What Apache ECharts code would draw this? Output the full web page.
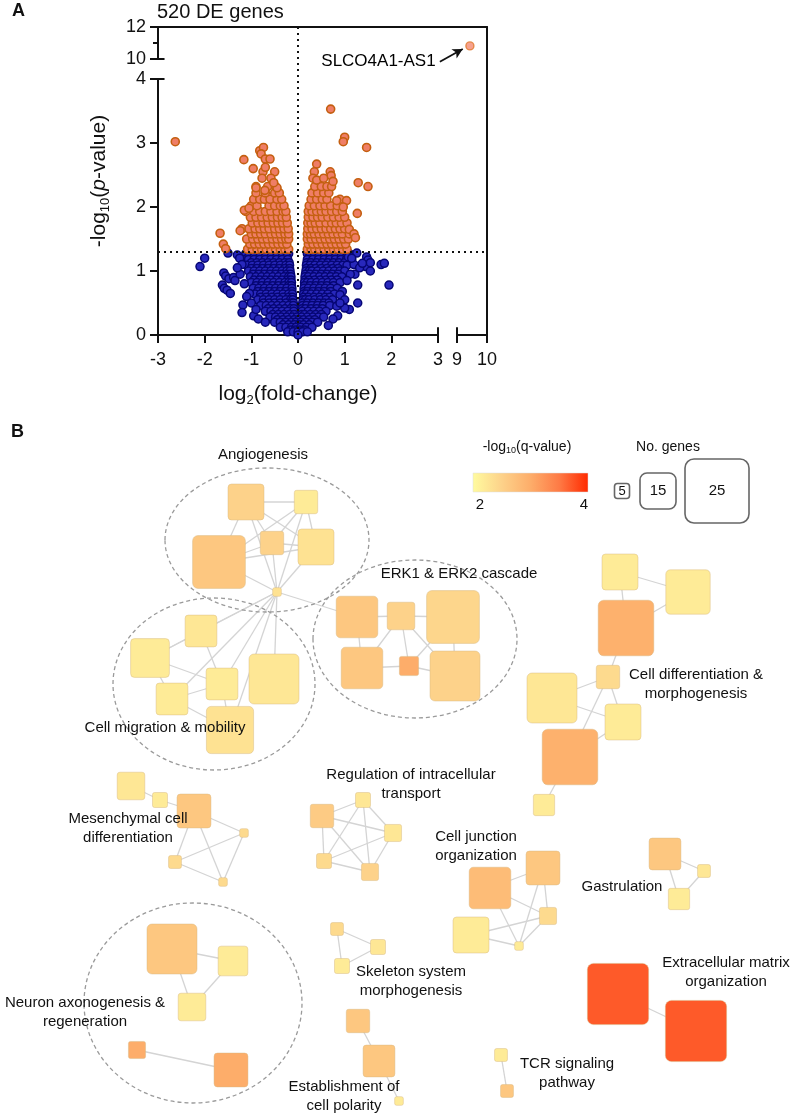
<!DOCTYPE html>
<html><head><meta charset="utf-8">
<script src="https://cdn.jsdelivr.net/npm/echarts/dist/echarts.min.js"></script>
<style>html,body{margin:0;padding:0;background:#fff}#c{width:796px;height:1117px}</style>
</head><body><div id="c"></div>
<script>
const FONT = '"Liberation Sans", Arial, sans-serif';
// ---------------- Panel A data ----------------
const xTicksMain = [-3, 3, 1];      // min, max, interval
const xTicksRight = [9, 10, 1];
const yTicksLow = [0, 4, 1];
const yTicksHigh = [10, 12, 2];
const pThreshold = 1.3;
// orange (significant) points, rows of [y, [x...]]
const orangeRows = [
 [1.34, [-1.08,-0.98,-0.88,-0.78,-0.68,-0.58,-0.48,-0.38,-0.28,-0.2,0.2,0.28,0.36,0.46,0.56,0.66,0.76,0.86,0.96,1.05]],
 [1.42, [-1.03,-0.93,-0.83,-0.73,-0.63,-0.53,-0.43,-0.33,-0.24,0.22,0.32,0.42,0.52,0.62,0.72,0.82,0.92,1.02]],
 [1.50, [-1.1,-0.97,-0.86,-0.76,-0.66,-0.55,-0.45,-0.35,-0.26,-0.2,0.2,0.28,0.38,0.48,0.58,0.68,0.78,0.88,0.98,1.08]],
 [1.58, [-1.0,-0.9,-0.8,-0.7,-0.58,-0.48,-0.38,-0.28,-0.2,0.2,0.27,0.35,0.45,0.55,0.65,0.75,0.85,0.95,1.1]],
 [1.66, [-1.2,-1.05,-0.92,-0.82,-0.72,-0.62,-0.5,-0.4,-0.3,-0.21,0.21,0.3,0.4,0.5,0.6,0.7,0.8,0.9,1.0]],
 [1.75, [-0.98,-0.86,-0.75,-0.64,-0.53,-0.43,-0.33,-0.23,0.21,0.28,0.37,0.47,0.6,0.72,0.82,0.93,1.05]],
 [1.84, [-1.02,-0.9,-0.78,-0.66,-0.55,-0.44,-0.34,-0.25,0.22,0.32,0.42,0.52,0.64,0.76,0.88,1.0]],
 [1.93, [-1.12,-0.95,-0.82,-0.7,-0.58,-0.45,-0.32,-0.26,0.22,0.3,0.4,0.5,0.6,0.72,0.83,0.95]],
 [2.02, [-1.0,-0.88,-0.62,-0.5,-0.38,-0.3,0.24,0.35,0.47,0.58,0.7,0.84]],
 [2.12, [-0.95,-0.82,-0.72,-0.6,-0.45,-0.35,0.28,0.4,0.52,0.62,0.9]],
 [2.22, [-0.9,-0.7,-0.5,-0.4,0.3,0.42,0.55,0.66]],
 [2.32, [-0.9,-0.65,-0.48,0.36,0.5,0.62,0.72]]
];
const orangeExtra = [[-2.63,3.02],[-1.16,2.74],[-0.96,2.6],[-0.82,2.88],[-0.74,2.93],[-0.79,2.83],[-0.7,2.75],[-0.6,2.75],
 [-0.75,2.55],[-0.7,2.62],[-0.77,2.45],[-0.5,2.55],[-0.58,2.45],[-0.45,2.3],[-0.52,2.38],[-0.71,2.26],[-0.9,2.3],
 [-1.15,1.95],[-1.05,1.98],[-1.24,1.63],[-1.67,1.59],[-1.6,1.42],[-1.55,1.35],
 [0.7,3.53],[1.0,3.09],[0.97,3.02],[1.47,2.93],[0.4,2.67],[0.69,2.55],[0.71,2.49],[1.29,2.38],[1.5,2.32],[0.75,2.4],
 [0.35,2.55],[0.32,2.45],[0.83,2.1],[1.04,2.1],[0.97,2.0],[1.27,1.9],[1.1,1.65],[1.2,1.58],[1.23,1.52],[0.4,2.42],[0.55,2.45]];
// blue (non-significant) points
const blueRows = [
 [1.27, [-1.12,-1.0,-0.88,-0.76,-0.64,-0.52,-0.4,-0.3,-0.2,0.2,0.3,0.4,0.5,0.62,0.74,0.86,0.98,1.1]],
 [1.22, [-1.06,-0.94,-0.82,-0.7,-0.58,-0.46,-0.34,-0.24,0.24,0.34,0.44,0.56,0.68,0.8,0.92,1.04]],
 [1.18, [-1.18,-1.06,-0.94,-0.82,-0.7,-0.58,-0.46,-0.34,-0.22,0.2,0.32,0.44,0.56,0.68,0.8,0.92,1.04,1.15]],
 [1.13, [-1.0,-0.88,-0.76,-0.64,-0.52,-0.4,-0.28,-0.19,0.19,0.28,0.4,0.52,0.64,0.76,0.88,1.0]],
 [1.09, [-1.1,-0.98,-0.86,-0.74,-0.62,-0.5,-0.38,-0.26,-0.18,0.18,0.26,0.36,0.48,0.6,0.72,0.84,0.96,1.05]],
 [1.04, [-1.0,-0.88,-0.76,-0.64,-0.52,-0.4,-0.28,-0.18,0.18,0.28,0.38,0.5,0.62,0.74,0.86]],
 [1.00, [-1.06,-0.94,-0.82,-0.7,-0.58,-0.46,-0.34,-0.24,-0.17,0.17,0.24,0.3,0.42,0.54,0.66,0.78,0.9,1.0]],
 [0.95, [-0.96,-0.84,-0.72,-0.6,-0.48,-0.36,-0.24,-0.16,0.16,0.26,0.38,0.5,0.62,0.74,0.86]],
 [0.91, [-1.02,-0.9,-0.78,-0.66,-0.54,-0.42,-0.3,-0.2,-0.15,0.15,0.22,0.34,0.46,0.58,0.7,0.82,0.94]],
 [0.86, [-0.94,-0.82,-0.7,-0.58,-0.46,-0.34,-0.22,-0.15,0.15,0.24,0.36,0.48,0.6,0.72,0.84]],
 [0.82, [-1.0,-0.88,-0.76,-0.64,-0.52,-0.4,-0.28,-0.2,-0.14,0.14,0.2,0.28,0.4,0.52,0.64,0.76,0.9]],
 [0.77, [-0.9,-0.78,-0.66,-0.54,-0.42,-0.3,-0.2,-0.14,0.14,0.26,0.38,0.5,0.62,0.76]],
 [0.73, [-0.96,-0.84,-0.72,-0.6,-0.48,-0.36,-0.24,-0.13,0.13,0.22,0.34,0.46,0.58,0.7,0.84]],
 [0.68, [-0.86,-0.74,-0.62,-0.5,-0.38,-0.26,-0.13,0.13,0.2,0.32,0.44,0.56,0.7]],
 [0.64, [-0.92,-0.8,-0.68,-0.56,-0.44,-0.32,-0.2,-0.12,0.12,0.18,0.28,0.4,0.52,0.64,0.78]],
 [0.59, [-0.8,-0.68,-0.56,-0.44,-0.32,-0.2,-0.12,0.12,0.22,0.34,0.46,0.58,0.68]],
 [0.55, [-0.86,-0.74,-0.62,-0.5,-0.38,-0.26,-0.16,-0.11,0.11,0.16,0.24,0.36,0.48,0.6,0.74]],
 [0.50, [-0.74,-0.62,-0.5,-0.38,-0.26,-0.14,-0.1,0.1,0.2,0.32,0.44,0.56,0.66]],
 [0.46, [-0.8,-0.68,-0.56,-0.44,-0.32,-0.2,-0.1,0.1,0.18,0.3,0.42,0.54,0.68]],
 [0.41, [-0.64,-0.52,-0.4,-0.28,-0.16,-0.09,0.09,0.16,0.28,0.4,0.52]],
 [0.37, [-0.7,-0.58,-0.46,-0.34,-0.22,-0.09,0.09,0.22,0.34,0.46,0.6]],
 [0.32, [-0.54,-0.42,-0.3,-0.18,-0.08,0.08,0.14,0.26,0.38,0.5]],
 [0.28, [-0.6,-0.48,-0.36,-0.24,-0.12,-0.02,0.08,0.2,0.32,0.44,0.55]],
 [0.24, [-0.44,-0.32,-0.2,-0.08,0.02,0.12,0.24,0.36]],
 [0.20, [-0.5,-0.38,-0.26,-0.14,-0.04,0.06,0.18,0.3,0.42]],
 [0.16, [-0.32,-0.2,-0.08,0.02,0.12,0.24]],
 [0.12, [-0.38,-0.26,-0.14,-0.04,0.06,0.18,0.3]],
 [0.08, [-0.16,-0.06,0.04,0.14]],
 [0.05, [-0.22,-0.1,0.0,0.1,0.2]],
 [0.0, [0.0]]
];
const blueExtra = [[-2.1,1.07],[-2.0,1.2],[-1.5,1.28],[-1.59,0.97],[-1.55,0.92],[-1.48,0.88],[-1.62,0.78],[-1.58,0.73],
 [-1.52,0.7],[-1.45,0.65],[-1.38,0.9],[-1.35,0.85],[-1.24,0.95],[-1.18,0.47],[-1.2,0.35],[-0.95,0.3],[-1.04,0.65],
 [-1.3,1.25],[-1.25,1.2],[-1.2,1.1],[-1.15,0.8],[-1.1,0.6],[-1.0,0.5],[-0.9,0.4],[-0.85,0.25],[-0.7,0.2],[-1.3,1.05],
 [1.26,1.28],[1.08,1.22],[1.47,1.22],[1.5,1.17],[1.45,1.07],[1.55,1.13],[1.55,1.0],[1.78,1.1],[1.85,1.12],[1.95,0.78],
 [1.28,0.78],[1.22,0.95],[1.12,0.95],[1.28,0.5],[1.1,0.4],[1.0,0.42],[0.95,0.68],[0.9,0.63],[0.83,0.45],[1.2,1.1],
 [1.15,1.2],[1.05,0.85],[0.85,0.3],[0.75,0.25],[0.65,0.15],[1.0,0.55],[0.9,0.5],[1.32,1.05],[1.38,1.12]];
const outlierGene = [[9.43, 10.82]];
const outlierName = 'SLCO4A1-AS1';

// ---------------- Panel B data ----------------
// id, layout x, layout y, number of genes, -log10(q)
const nodes = [
 ['N1',246,502,15,2.5],['N2',306,502,9,2.2],['N3',272,543,9,2.5],['N4',316,547,15,2.3],['N5',219,562,21,2.65],['H',277,592,2,2.3],
 ['E1',357,617,17,2.65],['E2',401,616,11,2.5],['E3',453,617,21,2.45],['E4',362,668,17,2.65],['E5',409,666,7,3.0],['E6',455,676,20,2.5],
 ['C1',201,631,13,2.25],['C2',150,658,16,2.2],['C3',222,684,13,2.2],['C4',274,679,20,2.25],['C5',172,699,13,2.2],['C6',230,730,19,2.3],
 ['D1',620,572,15,2.2],['D2',688,592,18,2.2],['D3',626,628,22,2.95],['D4',608,677,9,2.4],['D5',552,698,20,2.25],['D6',623,722,15,2.2],['D7',570,757,22,2.95],['D8',544,805,8,2.2],
 ['M1',131,786,11,2.25],['M2',160,800,5,2.2],['M3',194,811,14,2.65],['M4',244,833,2,2.4],['M5',175,862,4,2.4],['M6',223,882,2,2.4],
 ['R1',363,800,5,2.25],['R2',322,816,9,2.6],['R3',393,833,6,2.25],['R4',324,861,5,2.4],['R5',370,872,6,2.5],
 ['J1',490,888,17,2.8],['J2',543,868,14,2.65],['J3',548,916,6,2.4],['J4',471,935,15,2.2],['J5',519,946,2,2.2],
 ['G1',665,854,13,2.65],['G2',704,871,4,2.25],['G3',679,899,8,2.2],
 ['S1',337,929,4,2.4],['S2',378,947,5,2.25],['S3',342,966,5,2.2],
 ['X1',618,994,24,3.7],['X2',696,1031,24,3.7],
 ['U1',172,949,20,2.65],['U2',233,961,12,2.2],['U3',192,1007,11,2.2],['U4',137,1050,6,3.0],['U5',231,1070,14,3.0],
 ['P1',358,1021,9,2.65],['P2',379,1061,13,2.65],['P3',399,1101,2,2.2],
 ['T1',501,1055,4,2.2],['T2',507,1091,4,2.65]
];
const edges = [
 ['N1','N2'],['N1','N5'],['N1','N3'],['N1','N4'],['N2','N3'],['N2','N5'],['N2','N4'],['N3','N4'],['N3','N5'],['N4','N5'],
 ['N1','H'],['N2','H'],['N3','H'],['N4','H'],['N5','H'],
 ['H','E1'],['E1','E2'],['E2','E3'],['E1','E4'],['E3','E6'],['E4','E5'],['E5','E6'],['E2','E5'],['E2','E4'],['E2','E6'],['E3','E5'],
 ['H','C1'],['H','C2'],['H','C3'],['H','C4'],['H','C5'],['H','C6'],['C1','C2'],['C1','C3'],['C2','C3'],['C2','C5'],['C3','C5'],['C5','C6'],['C3','C6'],
 ['D1','D2'],['D1','D3'],['D2','D3'],['D3','D4'],['D4','D5'],['D4','D6'],['D4','D7'],['D5','D6'],['D6','D7'],['D7','D8'],
 ['M1','M2'],['M2','M3'],['M3','M4'],['M3','M6'],['M3','M5'],['M4','M5'],['M4','M6'],['M5','M6'],
 ['R1','R2'],['R1','R3'],['R1','R4'],['R1','R5'],['R2','R3'],['R2','R4'],['R2','R5'],['R3','R4'],['R3','R5'],['R4','R5'],
 ['J1','J2'],['J1','J3'],['J2','J3'],['J2','J5'],['J3','J4'],['J3','J5'],['J4','J5'],['J1','J5'],
 ['G1','G2'],['G1','G3'],['G2','G3'],['S1','S2'],['S1','S3'],['S2','S3'],['X1','X2'],
 ['U1','U2'],['U1','U3'],['U2','U3'],['U4','U5'],['P1','P2'],['P2','P3'],['T1','T2']
];
// cluster outlines: cx, cy, rx, ry (layout units)
const clusterOutlines = [[267,540,102,72],[214,684,101,86],[415,639,102,79],[193,1003,109,100]];
const clusterNames = ['Angiogenesis','ERK1 & ERK2 cascade','Cell differentiation &\nmorphogenesis','Cell migration & mobility',
 'Regulation of intracellular\ntransport','Mesenchymal cell\ndifferentiation','Cell junction\norganization','Gastrulation',
 'Skeleton system\nmorphogenesis','Extracellular matrix\norganization','Neuron axonogenesis &\nregeneration',
 'Establishment of\ncell polarity','TCR signaling\npathway'];
const clusterNamePos = [[263,455],[459,574],[696,684],[165,728],[411,784],[128,828],[476,846],[622,887],[411,981],[726,972],[85,1012],[344,1096],[567,1073]];
const legendGenes = [5, 15, 25];
const legendQ = [2, 4];

// ---------------- styling helpers ----------------
const qStops = [2, 2.5, 3, 3.5, 4];
const qColors = ['#fffb9f', '#fdd28a', '#fdad6a', '#fe7a45', '#ff2a00'];
function hex(c){return [parseInt(c.slice(1,3),16),parseInt(c.slice(3,5),16),parseInt(c.slice(5,7),16)];}
function colorOf(q){
  q = Math.max(qStops[0], Math.min(qStops[qStops.length-1], q));
  for (let i=0;i<qStops.length-1;i++){
    if (q<=qStops[i+1]){
      const t=(q-qStops[i])/(qStops[i+1]-qStops[i]); const a=hex(qColors[i]), b=hex(qColors[i+1]);
      return 'rgb('+a.map((v,k)=>Math.round(v+(b[k]-v)*t)).join(',')+')';
    }
  }
}
const sideGenes = [5, 15, 25], sidePx = [15, 36, 64];
function sizeOf(n){
  if (n<=sideGenes[1]) return sidePx[0] + (n-sideGenes[0])*(sidePx[1]-sidePx[0])/(sideGenes[1]-sideGenes[0]);
  return sidePx[1] + (n-sideGenes[1])*(sidePx[2]-sidePx[1])/(sideGenes[2]-sideGenes[1]);
}
const flat = rows => rows.flatMap(r => r[1].map(x => [x, r[0]]));
const orangeData = flat(orangeRows).concat(orangeExtra);
const blueData = flat(blueRows).concat(blueExtra);
const nodeIndex = {}; nodes.forEach(n => nodeIndex[n[0]] = n);
const nodeData = nodes.map(n => [n[1], n[2], n[3], n[4]]);
const edgeData = edges.map(([a,b]) => [nodeIndex[a][1], nodeIndex[a][2], nodeIndex[b][1], nodeIndex[b][2]]);

const chart = echarts.init(document.getElementById('c'), null, {renderer:'canvas'});
const axisLine = {show:true, onZero:false, lineStyle:{color:'#111', width:2}};
const tick = {show:true, length:8, lineStyle:{color:'#111', width:2}};
const lab = {color:'#111', fontSize:18, fontFamily:FONT};
const hidden = {show:false};
const fw = 329, fx = -3 + (xTicksMain[1]-xTicksMain[0]) * fw / 280;
const capStyle = {color:'#111', width:2, type:'solid'};

const option = {
  animation:false,
  backgroundColor:'#fff',
  textStyle:{fontFamily:FONT},
  title:[
    {text:'A', left:12, top:2, padding:0, textStyle:{fontSize:18, fontWeight:'bold', color:'#111', fontFamily:FONT}},
    {text:'520 DE genes', left:157, top:2, padding:0, textStyle:{fontSize:20, fontWeight:'normal', color:'#111', fontFamily:FONT}},
    {text:'B', left:11, top:423, padding:0, textStyle:{fontSize:18, fontWeight:'bold', color:'#111', fontFamily:FONT}}
  ],
  grid:[
    {left:158, top:79, width:280, height:256, outerBoundsMode:'none'},
    {left:158, top:27, width:280, height:32, outerBoundsMode:'none'},
    {left:457, top:79, width:30, height:256, outerBoundsMode:'none'},
    {left:457, top:27, width:30, height:32, outerBoundsMode:'none'},
    {left:158, top:27, width:fw, height:308, outerBoundsMode:'none'},
    {left:0, top:0, width:796, height:1117, outerBoundsMode:'none'}
  ],
  xAxis:[
    {gridIndex:0, type:'value', min:xTicksMain[0], max:xTicksMain[1], interval:xTicksMain[2], axisLine, axisTick:tick,
      axisLabel:Object.assign({margin:16}, lab), splitLine:hidden,
      name:'{a|log}{s|2}{a|(fold-change)}', nameLocation:'middle', nameGap:47,
      nameTextStyle:{rich:{a:{fontSize:21, color:'#111', fontFamily:FONT}, s:{fontSize:13, color:'#111', fontFamily:FONT, verticalAlign:'top', padding:[12,0,0,0]}}}},
    {gridIndex:1, type:'value', min:xTicksMain[0], max:xTicksMain[1], show:false},
    {gridIndex:2, type:'value', min:xTicksRight[0], max:xTicksRight[1], interval:xTicksRight[2], axisLine, axisTick:tick,
      axisLabel:Object.assign({margin:16}, lab), splitLine:hidden},
    {gridIndex:3, type:'value', min:xTicksRight[0], max:xTicksRight[1], show:false},
    {gridIndex:4, type:'value', min:-3, max:fx, position:'top', axisLine, axisTick:hidden, axisLabel:hidden, splitLine:hidden},
    {gridIndex:5, type:'value', min:0, max:796, show:false}
  ],
  yAxis:[
    {gridIndex:0, type:'value', min:yTicksLow[0], max:yTicksLow[1], interval:yTicksLow[2], axisLine, axisTick:tick,
      axisLabel:Object.assign({margin:12}, lab), splitLine:hidden},
    {gridIndex:1, type:'value', min:yTicksHigh[0], max:yTicksHigh[1], interval:yTicksHigh[2], axisLine, axisTick:tick,
      minorTick:{show:true, splitNumber:2, length:5, lineStyle:{color:'#111', width:2}},
      axisLabel:Object.assign({margin:12}, lab), splitLine:hidden, minorSplitLine:hidden},
    {gridIndex:2, type:'value', min:yTicksLow[0], max:yTicksLow[1], show:false},
    {gridIndex:3, type:'value', min:yTicksHigh[0], max:yTicksHigh[1], show:false},
    {gridIndex:4, type:'value', min:0, max:308/64, position:'right', axisLine, axisTick:hidden, axisLabel:hidden, splitLine:hidden},
    {gridIndex:4, type:'value', min:0, max:308/64, position:'left', axisLine:{show:false}, axisTick:hidden, axisLabel:hidden, splitLine:hidden,
      name:'{a|-log}{s|10}{a|(}{i|p}{a|-value)}', nameLocation:'middle', nameGap:46, nameRotate:90,
      nameTextStyle:{rich:{a:{fontSize:21, color:'#111', fontFamily:FONT}, i:{fontSize:21, fontStyle:'italic', color:'#111', fontFamily:FONT},
        s:{fontSize:13, color:'#111', fontFamily:FONT, verticalAlign:'top', padding:[12,0,0,0]}}}},
    {gridIndex:5, type:'value', min:0, max:1117, inverse:true, show:false}
  ],
  graphic:[
    {type:'text', x:527, y:447, style:{text:'{a|-log}{s|10}{a|(q-value)}', align:'center', verticalAlign:'middle',
      rich:{a:{fontSize:14, fill:'#111', fontFamily:FONT}, s:{fontSize:9, fill:'#111', fontFamily:FONT, verticalAlign:'top', padding:[8,0,0,0]}}}},
    {type:'rect', shape:{x:473, y:473, width:115, height:19},
      style:{fill:new echarts.graphic.LinearGradient(0,0,1,0, qStops.map((q,i)=>({offset:(q-qStops[0])/(qStops[4]-qStops[0]), color:qColors[i]}))), stroke:'#ddd', lineWidth:0.5}},
    {type:'text', x:480, y:505, style:{text:String(legendQ[0]), fontSize:15, fontFamily:FONT, fill:'#111', align:'center', verticalAlign:'middle'}},
    {type:'text', x:584, y:505, style:{text:String(legendQ[1]), fontSize:15, fontFamily:FONT, fill:'#111', align:'center', verticalAlign:'middle'}},
    {type:'text', x:668, y:447, style:{text:'No. genes', fontSize:14, fontFamily:FONT, fill:'#111', align:'center', verticalAlign:'middle'}}
  ].concat([622, 658, 717].flatMap((cx, i) => {
      const s = sizeOf(legendGenes[i]);
      return [
        {type:'rect', shape:{x:cx-s/2, y:491-s/2, width:s, height:s, r:[3,7,9][i]}, style:{fill:'#fff', stroke:'#666', lineWidth:1.6}},
        {type:'text', x:cx, y:491, style:{text:String(legendGenes[i]), fontSize:[13,15,15][i], fontFamily:FONT, fill:'#111', align:'center', verticalAlign:'middle'}}
      ];
  })),
  series:[
    {type:'scatter', xAxisIndex:0, yAxisIndex:0, data:blueData, symbolSize:8, clip:false, silent:true,
      itemStyle:{color:'#2828bc', borderColor:'#060674', borderWidth:1.5, opacity:1},
      markLine:{silent:true, symbol:'none', label:{show:false}, lineStyle:capStyle,
        data:[[{coord:[3, 0]}, {coord:[3, 0.12]}], [{coord:[-3, 4]}, {coord:[-2.86, 4]}]]}},
    {type:'scatter', xAxisIndex:0, yAxisIndex:0, data:orangeData, symbolSize:8, clip:false, silent:true,
      itemStyle:{color:'#ef7e66', borderColor:'#c45f10', borderWidth:1.6, opacity:1}},
    {type:'scatter', xAxisIndex:3, yAxisIndex:3, data:outlierGene, symbolSize:8, clip:false, silent:true,
      itemStyle:{color:'#f48a72', borderColor:'#e0782a', borderWidth:1.4}},
    {type:'scatter', xAxisIndex:2, yAxisIndex:2, data:[], silent:true,
      markLine:{silent:true, symbol:'none', label:{show:false}, lineStyle:capStyle,
        data:[[{coord:[9, 0]}, {coord:[9, 0.12]}]]}},
    {type:'scatter', xAxisIndex:1, yAxisIndex:1, data:[], silent:true,
      markLine:{silent:true, symbol:'none', label:{show:false}, lineStyle:capStyle,
        data:[[{coord:[-3, 10]}, {coord:[-2.86, 10]}]]}},
    {type:'scatter', xAxisIndex:4, yAxisIndex:4, data:[[fx, 0]], symbolSize:0, silent:true,
      markLine:{silent:true, symbol:'none', label:{show:false}, lineStyle:{color:'#111', width:2, type:[2,4]},
        data:[{xAxis:0}, {yAxis:pThreshold}]}},
    {type:'scatter', xAxisIndex:4, yAxisIndex:4, data:[[2.96, 4.28]], symbolSize:1, silent:true, itemStyle:{color:'#fff', opacity:1},
      label:{show:true, position:'left', distance:0, formatter:outlierName, fontSize:17, color:'#000', fontFamily:FONT, textBorderWidth:0},
      markLine:{silent:true, label:{show:false}, lineStyle:{color:'#111', width:1.8, type:'solid'},
        data:[[{coord:[3.04, 4.27], symbol:'none'}, {coord:[3.53, 4.47], symbol:'arrow', symbolSize:[8,10]}]]}},
    // network edges
    {type:'custom', xAxisIndex:5, yAxisIndex:6, data:edgeData, silent:true, z:3,
      renderItem:(p, api) => {
        const a = api.coord([api.value(0), api.value(1)]), b = api.coord([api.value(2), api.value(3)]);
        return {type:'line', shape:{x1:a[0], y1:a[1], x2:b[0], y2:b[1]}, style:{stroke:'#d4d4d4', lineWidth:1.3}};
      }},
    // cluster outlines
    {type:'custom', xAxisIndex:5, yAxisIndex:6, data:clusterOutlines, silent:true, z:4,
      renderItem:(p, api) => {
        const c = api.coord([api.value(0), api.value(1)]); const s = api.size([api.value(2), api.value(3)]);
        return {type:'ellipse', shape:{cx:c[0], cy:c[1], rx:Math.abs(s[0]), ry:Math.abs(s[1])},
          style:{fill:'none', stroke:'#9a9a9a', lineWidth:1.3, lineDash:[4,3]}};
      }},
    // nodes
    {type:'custom', xAxisIndex:5, yAxisIndex:6, data:nodeData, silent:true, z:5,
      renderItem:(p, api) => {
        const c = api.coord([api.value(0), api.value(1)]); const s = sizeOf(api.value(2));
        return {type:'rect', shape:{x:c[0]-s/2, y:c[1]-s/2, width:s, height:s, r:Math.max(2, s*0.1)},
          style:{fill:colorOf(api.value(3)), stroke:'rgba(215,185,130,0.45)', lineWidth:1}};
      }},
    // cluster names
    {type:'custom', xAxisIndex:5, yAxisIndex:6, data:clusterNamePos, silent:true, z:6,
      renderItem:(p, api) => {
        const c = api.coord([api.value(0), api.value(1)]);
        return {type:'text', x:c[0], y:c[1], style:{text:clusterNames[p.dataIndex], fontSize:15, fontFamily:FONT, fill:'#111',
          align:'center', verticalAlign:'middle', lineHeight:19}};
      }}
  ]
};
chart.setOption(option);
</script></body></html>
